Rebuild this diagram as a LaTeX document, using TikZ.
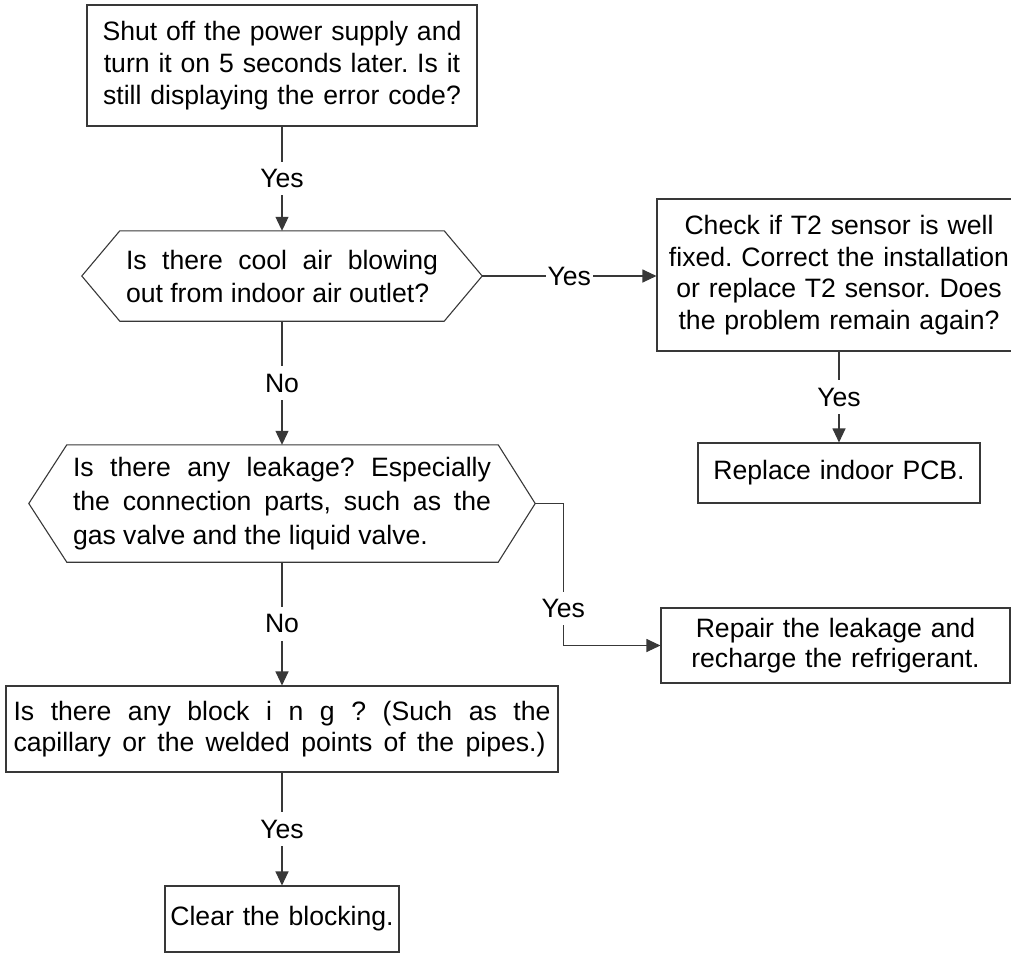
\documentclass[tikz,border=0pt]{standalone}
\usepackage{fontspec}
\setmainfont{Liberation Sans}
\usetikzlibrary{arrows.meta,calc}
\definecolor{linecol}{gray}{0.22}
\frenchspacing
\tikzset{
  txt/.style={font=\fontsize{26.6pt}{#1}\selectfont\frenchspacing, inner sep=0pt},
  box/.style={draw=linecol, line width=1.1pt, align=center},
  hexbox/.style={align=justify},
  lbl/.style={fill=white, font=\fontsize{26.6pt}{32pt}\selectfont, inner xsep=1.5pt, inner ysep=7.5pt},
  arr/.style={draw=linecol, line width=1.1pt, -{Triangle[length=14pt,width=13pt]}},
  plainline/.style={draw=linecol, line width=1.1pt, line join=miter}
}
\begin{document}
\begin{tikzpicture}[x=1pt,y=-1pt]
\useasboundingbox (0,0) rectangle (1011,954);
\clip (0,0) rectangle (1011,954);

% boxes
\node[box, txt=32pt, minimum width=390pt, minimum height=121pt, text width=380pt] (b1) at (282,65.5)
  {Shut off the power supply and\\turn it on 5 seconds later. Is it\\still displaying the error code?};

\node[hexbox, txt=33pt, minimum width=400pt, minimum height=90pt, text width=312pt] (h1) at (282,276)
  {Is there cool air blowing\linebreak out from indoor air outlet?};

\node[box, txt=31.7pt, minimum width=364pt, minimum height=152pt, text width=345pt] (c) at (839,275)
  {Check if T2 sensor is well\\fixed. Correct the installation\\or replace T2 sensor. Does\\the problem remain again?};

\node[box, txt=32pt, minimum width=282pt, minimum height=60pt, text width=270pt] (pcb) at (839,473)
  {Replace indoor PCB.};

\node[hexbox, txt=34pt, minimum width=506pt, minimum height=117pt, text width=418pt] (h2) at (282,503.5)
  {Is there any leakage? Especially\linebreak the connection parts, such as the\linebreak gas valve and the liquid valve.};

\node[box, txt=30pt, minimum width=349pt, minimum height=75pt, text width=340pt] (rp) at (835.5,645.5)
  {Repair the leakage and\\recharge the refrigerant.};

\node[draw=linecol, line width=1.1pt, align=justify, txt=31pt, minimum width=552pt, minimum height=86pt, text width=537pt] (b3) at (282,729)
  {Is there any block i n g ? (Such as the\linebreak \makebox[532pt][s]{capillary or the welded points of the pipes.)}};

\node[box, txt=32pt, minimum width=234pt, minimum height=66pt, text width=225pt] (cl) at (282,919)
  {Clear the blocking.};

% hexagon outlines
\draw[plainline] (h1.west) -- ($(h1.north west)+(38,0)$) -- ($(h1.north east)+(-38,0)$) -- (h1.east)
  -- ($(h1.south east)+(-38,0)$) -- ($(h1.south west)+(38,0)$) -- cycle;
\draw[plainline] (h2.west) -- ($(h2.north west)+(38,0)$) -- ($(h2.north east)+(-37,0)$) -- (h2.east)
  -- ($(h2.south east)+(-37,0)$) -- ($(h2.south west)+(38,0)$) -- cycle;

% connectors
\draw[arr] (b1) -- node[lbl]{Yes} (h1);
\draw[arr] (h1.east) -- node[lbl]{Yes} (h1.east -| c.west);
\draw[arr] (c.south -| pcb.north) -- node[lbl]{Yes} (pcb.north);
\draw[arr] (h1) -- node[lbl]{No} (h2);
\coordinate (h2r) at ($(h2.east)+(28,0)$);
\draw[arr] (h2.east) -- (h2r) |- node[lbl, pos=0.37]{Yes} (rp.west);
\draw[arr] (h2) -- node[lbl]{No} (b3);
\draw[arr] (b3) -- node[lbl]{Yes} (cl);
\end{tikzpicture}
\end{document}
